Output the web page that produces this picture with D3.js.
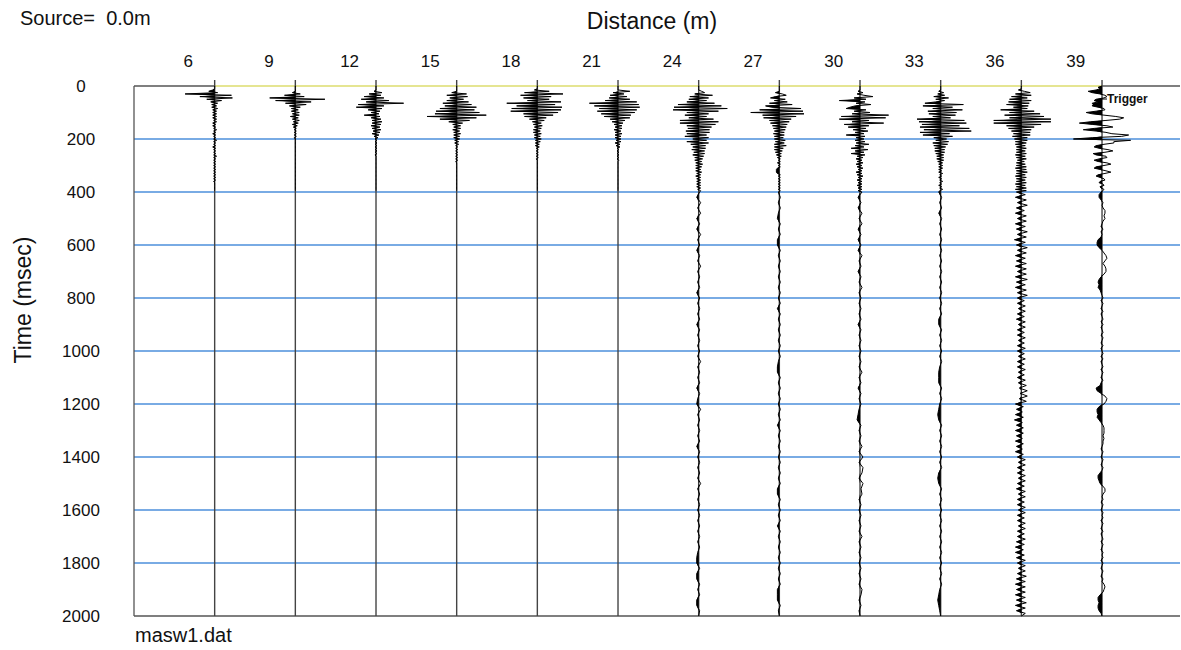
<!DOCTYPE html>
<html lang="en">
<head>
  <meta charset="UTF-8">
  <title>masw1.dat shot gather</title>
  <script src="https://d3js.org/d3.v7.min.js"></script>
  <style>
    body { margin: 0; background: #fff; }
    #chart { display: block; font-family: Arial, "Liberation Sans", sans-serif; }
  </style>
</head>
<body>
  <svg id="chart" width="1181" height="650"></svg>

  <script>
    // receiver offsets (m) and axis labels
    const distances = [7, 10, 13, 16, 19, 22, 25, 28, 31, 34, 37, 40];
    const distanceTicks = [6, 9, 12, 15, 18, 21, 24, 27, 30, 33, 36, 39];
    const timeTicks = [0, 200, 400, 600, 800, 1000, 1200, 1400, 1600, 1800, 2000];

    // early part of every trace: one sample each 5 ms from 0 to 395 ms
    const sampleMs = 5;
    const trace07 = [0,0,0,-2,-6,3,-30,17,-15,18, -8,7,-4,3,-3,2,-3,3,-2,2, -2,2,-2,2,-2,2,-1,2,-2,1, -2,1,-1,2,-1,1,-2,1,-1,1,
                     -1,2,-1,1,-1,1,-2,1,-1,1, -1,1,-1,2,-1,1,-1,1,-1,1, -1,1,-1,1,-1,1,-1,1,-1,1, -1,1,-1,0,0,0,0,0,0,0];
    const trace10 = [0,0,0,0,0,-3,5,-11,9,-26, 30,-20,16,-10,11,-6,5,-4,3,-4, 4,-3,4,-5,3,-3,4,-2,3,-3, 2,-2,1,-1,1,-1,1,-1,1,-1,
                     0,0,0,0,0,0,0,0,0,0, 0,0,0,0,0,0,0,0,0,0, 0,0,0,0,0,0,0,0,0,0, 0,0,0,0,0,0,0,0,0,0];
    const trace13 = [0,0,0,0,-2,6,-7,5,-12,8, -15,13,-10,28,-18,8,-20,6,-8,4, -5,3,-12,4,-5,5,-4,6,-4,5, -5,4,-4,5,-3,4,-4,3,-2,2,
                     -1,1,-1,1,-1,1,-1,1,-1,1, -1,1,-1,0,0,0,0,0,0,0, 0,0,0,0,0,0,0,0,0,0, 0,0,0,0,0,0,0,0,0,0];
    const trace16 = [0,0,0,0,0,-5,10,-10,11,-7, 7,-10,12,-14,15,-12,20,-17,18,-21, 23,-22,30,-30,20,-17,13,-8,6,-4, 4,-3,4,-4,3,-3,4,-3,3,-3,
                     3,-2,2,-2,2,-1,1,-1,1,-1, 1,-1,1,-1,1,-1,1,-1,0,0, 0,0,0,0,0,0,0,0,0,0, 0,0,0,0,0,0,0,0,0,0];
    const trace19 = [0,0,0,-3,12,-13,26,-17,14,-14, 12,-10,24,-31,18,-21,25,-26,24,-27, 21,-14,16,-13,9,-8,7,-5,4,-4, 5,-3,4,-4,3,-4,4,-3,3,-3,
                     4,-2,3,-2,2,-2,2,-1,1,-1, 1,-1,1,-1,1,-1,0,0,0,0, 0,0,0,0,0,0,0,0,0,0, 0,0,0,0,0,0,0,0,0,0];
    const trace22 = [0,0,0,0,12,-5,6,-8,9,-9, 12,-13,19,-29,21,-24,22,-19,19,-21, 17,-17,13,-14,12,-8,7,-6,5,-4, 4,-3,4,-4,3,-3,4,-3,3,-3,
                     3,-2,3,-3,2,-2,2,-1,1,-1, 1,-1,1,-1,1,-1,1,0,0,0, 0,0,0,0,0,0,0,0,0,0, 0,0,0,0,0,0,0,0,0,0];
    const trace25 = [0,0,0,0,3,6,-4,14,-9,10, -10,8,-12,16,-21,23,-25,29,-26,20, -12,10,-14,8,-10,15,-19,20,-19,17, -12,13,-11,11,-13,11,-12,8,-14,10,
                     -6,8,-12,10,-8,7,-6,7,-7,6, -5,6,-6,5,-4,4,-4,3,-3,4, -3,3,-3,2,-3,3,-2,2,-3,2, -2,2,-2,2,-2,2,-2,2,-1,2];
    const trace28 = [0,0,0,0,0,-4,3,7,-4,-9, 6,-5,8,-10,13,-14,-8,22,-20,24, -29,25,-17,17,-16,12,-10,10,-9,8, -7,7,-6,6,-5,5,-6,5,-5,4,
                     -5,6,-4,5,-5,7,-5,4,-5,3, -4,2,-3,2,-2,1,-1,1,-2,1, -1,1,-2,-3,-3,-3,-2,1,-1,1, -1,1,-1,1,-1,1,-1,1,-1,1];
    const trace31 = [0,0,0,0,-2,3,-3,4,13,-6, 6,-21,5,-4,11,-5,-10,-14,6,-6, 10,-8,29,-19,26,-21,9,-8,24,-16, 9,-12,6,-7,8,-5,4,-14,5,-4,
                     4,-5,5,-4,9,-5,4,-9,8,-5, 4,-9,5,-3,3,-4,2,-3,3,-4, 2,-3,3,-2,2,-4,2,-3,3,-2, 2,-3,2,-2,2,-3,2,-2,2,-2];
    const trace34 = [0,0,0,0,-2,3,-3,4,-7,8, -5,4,-5,-16,23,-18,12,-8,22,-13, 16,-12,15,-8,10,-24,24,-22,26,-19, 19,-21,29,-17,31,-21,9,-18,12,-7,
                     6,-5,8,-8,7,-7,5,-6,4,-6, 4,-5,3,-4,3,-4,3,-3,2,-2, 2,-2,2,-2,1,-2,2,-1,1,-2, 1,-1,2,-1,1,-2,1,-1,2,-1];
    const trace37 = [0,0,0,-3,3,9,-6,10,-10,6, -12,10,-13,8,-15,7,-8,6,-21,13, -12,19,-17,23,-12,30,-28,30,-28,20, -15,13,-13,10,-10,9,-8,9,-9,6,
                     -7,6,-6,5,-6,4,-5,5,-5,4, -5,5,-6,4,-5,5,-4,3,-5,4, -5,5,-6,5,-5,6,-5,4,-6,5, -5,4,-5,5,-6,4,-5,5,-6,5];
    const trace40 = [0,-4,-2,-6,-14,-10,-2,3,5,2, -6,-8,-4,-10,-9,-10,-4,2,3,-6, -16,-10,2,14,22,18,4,-12,-23,-10, 5,11,-8,-19,-6,4,10,27,20,-10,
                     -29,29,12,12,2,-6,-8,-3,6,11, 3,-9,-6,4,5,-3,-8,-4,5,9, 2,-6,-8,-2,4,9,3,-4,-6,-2, 2,3,-2,-3,1,2,-2,-1,2,1];

    // late part (400-2000 ms), only for the noisy far traces
    const lateStartMs = 400;
    const late25 = [1,-2,2,-1,2,-2,1,-2,2,-1, 1,-2,1,-1,2,-1,1,-1,1,-2, 1,-1,1,-1,1,-2,1,-1,1,-1, 1,-1,2,-1,1,-1,1,-2,1,-1,
                    -2,2,-1,1,-1,1,-1,1,-2,1, -1,1,-1,1,-1,2,-1,1,-1,1, -1,1,-1,1,-1,1,-1,1,-1,-2, -2,1,-2,-2,1,-1,1,-2,-2,1, 0];
    const late28 = [-1,1,-1,1,-1,-2,1,-1,1,-2, -2,1,-1,1,-1,1,-1,1,-1,1, -1,1,-2,1,-1,1,-1,1,-1,1, -1,1,-1,-2,-2,1,-1,1,-1,1,
                    -1,1,-1,1,-2,1,-1,1,-1,1, -1,1,-1,1,-1,1,-2,-2,1,-1, 1,-1,1,-2,1,-1,1,-1,1,-1, 1,-1,1,-1,1,-2,-2,-2,1,-1, 0];
    const late31 = [2,-2,1,-2,2,-1,2,-2,1,-2, 1,-2,2,-1,1,-2,1,-1,2,-1, 1,-1,1,-1,1,-2,1,-1,1,-1, 1,-1,1,-1,2,-1,1,-2,1,-1,
                    1,-1,-2,-3,1,-1,1,-1,2,-1, 3,-1,3,2,-1,3,1,2,-1,1, -1,1,-1,1,-1,2,-1,1,-1,1, -1,1,-1,1,-1,2,1,-1,1,-1, 0];
    const late34 = [-2,1,-1,1,-2,1,-1,1,-1,1, -1,1,-1,1,-1,1,-1,1,-1,1, -1,1,-1,1,-2,-2,1,-1,1,-1, 1,-1,1,-1,-2,-2,-2,1,-1,1,
                    -1,-2,-3,-2,1,-1,1,-1,1,-1, 1,-1,1,-2,-3,-2,1,-1,1,-1, 1,-1,1,-1,1,-1,1,-1,1,-1, 1,-1,1,-1,1,-1,-2,-3,-2,-1, 0];
    const late37 = [-5,4,-6,5,-4,6,-5,3,-6,5, -4,5,-6,4,-5,6,-4,5,-7,4, -5,6,-4,5,-6,4,-5,5,-6,5, -4,5,-6,6,-5,4,-6,5,-4,6,
                    -4,3,-4,4,-3,4,-4,3,-5,4, -3,4,-4,3,-4,4,-3,3,-4,4, -4,3,-3,4,-4,3,-4,4,-3,3, -4,4,-3,5,-2,6,-1,6,-2,5,
                    -6,2,-5,1,-6,2,-7,1,-5,2, -6,2,-5,1,-6,2,-5,1,-6,2, -4,4,-3,4,-4,3,-4,4,-3,4, -4,3,-5,4,-3,4,-4,3,-4,4,
                    -3,4,-4,3,-4,4,-3,4,-4,3, -4,4,-5,3,-6,2,-6,3,-5,4, -4,4,-3,4,-4,5,-5,4,-6,4, -5,4,-6,4,-5,5,-6,4,-5,4, 0];
    const late40 = [-1,-3,-3,-1,1,0,1,3,3,2, 3,1,0,-1,1,-1,0,-1,-4,-5, -5,-3,0,2,4,5,3,1,3,4, 4,2,-1,-3,-4,-3,-4,-2,-1,0,
                    1,-1,1,0,-1,1,-1,0,1,-1, 1,-1,0,1,-1,1,0,-1,1,-1, 0,1,-1,1,-1,0,1,-1,1,0, -1,1,-1,-2,-6,-5,-1,3,5,4,
                    2,-3,-5,-5,-4,-5,-3,-1,1,2, 2,2,1,2,1,1,0,-1,1,0, -1,1,0,-1,1,0,-2,-4,-4,-3, -2,1,3,3,1,0,1,-1,1,0,
                    -1,1,0,1,-1,1,0,-1,1,-1, 0,1,-1,1,0,-1,1,0,1,-1, 1,0,-1,1,0,-1,1,0,2,3, 2,1,-2,-4,-4,-3,-4,-4,-3,-1, 0];

    const traces = [trace07, trace10, trace13, trace16, trace19, trace22, trace25, trace28, trace31, trace34, trace37, trace40];
    const lateTraces = [null, null, null, null, null, null, late25, late28, late31, late34, late37, late40];
    const lateStepMs = [0, 0, 0, 0, 0, 0, 20, 20, 20, 20, 10, 10];

    const svg = d3.select("#chart");
    const plot = { left: 134, right: 1180, top: 86, bottom: 616 };

    const xScale = d3.scaleLinear().domain([4, 42.9]).range([plot.left, plot.right]);
    const yScale = d3.scaleLinear().domain([0, 2000]).range([plot.top, plot.bottom]);
    // trace amplitude (counts) -> offset in metres
    const ampScale = d3.scaleLinear().domain([-30, 30]).range([-1.1, 1.1]);

    drawGrid();
    drawFrame();
    drawAxes();
    traces.forEach((tr, i) => drawTrace(i));
    drawTexts();

    function drawGrid() {
      svg.append("g")
        .selectAll("line")
        .data(timeTicks.filter(t => t > 0 && t < 2000))
        .join("line")
        .attr("x1", plot.left)
        .attr("x2", plot.right)
        .attr("y1", d => yScale(d))
        .attr("y2", d => yScale(d))
        .attr("stroke", "#4d8fdb")
        .attr("stroke-width", 1.3);
    }

    function drawFrame() {
      const first = xScale(distances[0]);
      const last = xScale(distances[distances.length - 1]);
      const g = svg.append("g").attr("stroke-width", 1.3);

      g.append("line").attr("x1", plot.left).attr("x2", plot.left)
        .attr("y1", plot.top).attr("y2", plot.bottom).attr("stroke", "#555");
      g.append("line").attr("x1", plot.left).attr("x2", plot.right)
        .attr("y1", plot.bottom).attr("y2", plot.bottom).attr("stroke", "#555");
      g.append("line").attr("x1", plot.left).attr("x2", first)
        .attr("y1", plot.top).attr("y2", plot.top).attr("stroke", "#555");
      g.append("line").attr("x1", last).attr("x2", plot.right)
        .attr("y1", plot.top).attr("y2", plot.top).attr("stroke", "#555");
      // zero-time line across the spread
      g.append("line").attr("x1", first).attr("x2", last)
        .attr("y1", plot.top).attr("y2", plot.top).attr("stroke", "#dcdc6e");
    }

    function drawAxes() {
      const top = svg.append("g")
        .attr("transform", "translate(0,61)")
        .call(d3.axisTop(xScale).tickValues(distanceTicks).tickSize(0).tickFormat(d3.format("d")));
      top.select(".domain").remove();
      top.selectAll("text")
        .attr("y", 0).attr("dy", "0.35em")
        .attr("font-size", 17).attr("font-family", null).attr("fill", "#111");

      const left = svg.append("g")
        .attr("transform", "translate(81,0)")
        .call(d3.axisLeft(yScale).tickValues(timeTicks).tickSize(0).tickFormat(d3.format("d")));
      left.select(".domain").remove();
      left.selectAll("text")
        .attr("x", 0).attr("dy", "0.35em").attr("text-anchor", "middle")
        .attr("font-size", 17).attr("font-family", null).attr("fill", "#111");
    }

    function tracePoints(i) {
      const pts = traces[i].map((a, k) => ({ t: k * sampleMs, a: a }));
      const late = lateTraces[i];
      if (late) {
        late.forEach((a, k) => pts.push({ t: lateStartMs + k * lateStepMs[i], a: a }));
      }
      return pts;
    }

    function drawTrace(i) {
      const dist = distances[i];
      const x0 = xScale(dist);
      const pts = tracePoints(i);
      const g = svg.append("g");

      g.append("line")
        .attr("x1", x0).attr("x2", x0)
        .attr("y1", plot.top - 6).attr("y2", plot.bottom)
        .attr("stroke", "#444")
        .attr("stroke-width", 1.4);

      const area = d3.area()
        .y(d => yScale(d.t))
        .x0(x0)
        .x1(d => xScale(dist + ampScale(Math.min(d.a, 0))));

      g.append("path")
        .datum(pts)
        .attr("d", area)
        .attr("fill", "#000");

      const line = d3.line()
        .y(d => yScale(d.t))
        .x(d => xScale(dist + ampScale(d.a)));

      g.append("path")
        .datum(pts)
        .attr("d", line)
        .attr("fill", "none")
        .attr("stroke", "#000")
        .attr("stroke-width", 1)
        .attr("stroke-linejoin", "round");
    }

    function drawTexts() {
      svg.append("text")
        .attr("x", 20).attr("y", 25)
        .attr("font-size", 20).attr("fill", "#111")
        .style("white-space", "pre")
        .text("Source=  0.0m");

      svg.append("text")
        .attr("x", 652).attr("y", 29)
        .attr("text-anchor", "middle")
        .attr("font-size", 23).attr("fill", "#111")
        .text("Distance (m)");

      svg.append("text")
        .attr("transform", "translate(31,300) rotate(-90)")
        .attr("text-anchor", "middle")
        .attr("font-size", 23).attr("fill", "#111")
        .text("Time (msec)");

      svg.append("text")
        .attr("x", 135).attr("y", 642)
        .attr("font-size", 20).attr("fill", "#111")
        .text("masw1.dat");

      const xt = xScale(distances[distances.length - 1]);
      svg.append("line")
        .attr("x1", xt).attr("x2", xt + 5)
        .attr("y1", 99).attr("y2", 99)
        .attr("stroke", "#000");
      svg.append("text")
        .attr("x", xt + 5).attr("y", 103)
        .attr("font-size", 12).attr("font-weight", "bold").attr("fill", "#111")
        .text("Trigger");
    }
  </script>
</body>
</html>
